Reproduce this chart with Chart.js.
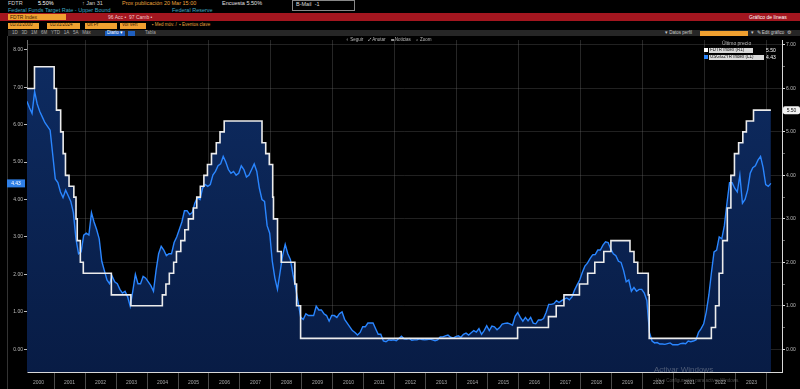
<!DOCTYPE html>
<html>
<head>
<meta charset="utf-8">
<script src="https://cdn.jsdelivr.net/npm/chart.js@4.4.0/dist/chart.umd.min.js"></script>
<style>
  body { margin: 0; background: #000; width: 800px; height: 389px; overflow: hidden; position: relative;
         font-family: "Liberation Sans", Arial, sans-serif; }
  .t { position: absolute; white-space: nowrap; font-size: 5.5px; line-height: 1; }
  .box { position: absolute; }
  #wrap { position: absolute; left: 0; top: 36px; width: 800px; height: 353px; }
</style>
</head>
<body>
<!-- entête façon terminal -->
<div class="t" style="left:8px;top:1px;color:#cfcfcf">FDTR</div>
<div class="t" style="left:38px;top:1px;color:#fff">5.50%</div>
<div class="t" style="left:82px;top:1px;color:#cfcfcf">↑ Jan 31</div>
<div class="t" style="left:122px;top:1px;color:#e8a33d">Prox publicación 20 Mar 15:00</div>
<div class="t" style="left:222px;top:1px;color:#e0e0e0">Encuesta 5.50%</div>
<div class="box" style="left:292px;top:0;width:61px;height:9px;border:1px solid #888"></div>
<div class="t" style="left:296px;top:2px;color:#ddd">B-Mail&nbsp;&nbsp;-1</div>
<div class="t" style="left:8px;top:7.5px;color:#3fa9c0">Federal Funds Target Rate - Upper Bound</div>
<div class="t" style="left:172px;top:7.5px;color:#3fa9c0">Federal Reserve</div>

<div class="box" style="left:0;top:13px;width:800px;height:8px;background:#a3161f"></div>
<div class="box" style="left:8px;top:14px;width:58px;height:6px;background:#f0a030"></div>
<div class="t" style="left:10px;top:14.5px;color:#3a1a00;font-size:5px">FDTR Index</div>
<div class="t" style="left:108px;top:14.5px;color:#f1c9cc;font-size:5px">96 Acc •&nbsp;&nbsp;97 Camb •</div>
<div class="t" style="left:749px;top:14.5px;color:#fff;font-size:5px">Gráfico de líneas</div>

<div class="box" style="left:8px;top:22.5px;width:31px;height:6px;background:#f0a030"></div>
<div class="t" style="left:10px;top:23px;color:#3a1a00;font-size:4.5px">01/31/2000</div>
<div class="box" style="left:47px;top:22.5px;width:33px;height:6px;background:#f0a030"></div>
<div class="t" style="left:50px;top:23px;color:#3a1a00;font-size:4.5px">01/31/2024</div>
<div class="box" style="left:85px;top:22.5px;width:32px;height:6px;background:#f0a030"></div>
<div class="t" style="left:87px;top:23px;color:#3a1a00;font-size:4.5px">Últ Pr</div>
<div class="box" style="left:120px;top:22.5px;width:26px;height:6px;background:#f0a030"></div>
<div class="t" style="left:122px;top:23px;color:#3a1a00;font-size:4.5px">Vol Vert</div>
<div class="t" style="left:152px;top:23px;color:#e8a33d;font-size:4.5px">▪ Med móv. /&nbsp;&nbsp;▪ Eventos clave</div>

<div class="box" style="left:8px;top:30px;width:792px;height:6px;background:#262626"></div>
<div class="t" style="left:12px;top:30.8px;color:#aaa;font-size:4.5px">1D&nbsp;&nbsp;&nbsp;3D&nbsp;&nbsp;&nbsp;1M&nbsp;&nbsp;&nbsp;6M&nbsp;&nbsp;&nbsp;YTD&nbsp;&nbsp;&nbsp;1A&nbsp;&nbsp;&nbsp;5A&nbsp;&nbsp;&nbsp;Máx</div>
<div class="box" style="left:105px;top:30.5px;width:20px;height:5px;background:#1f5fbf"></div>
<div class="t" style="left:107px;top:30.8px;color:#fff;font-size:4.5px">Diario ▾</div>
<div class="box" style="left:128px;top:30.5px;width:7px;height:5px;background:#1f5fbf"></div>
<div class="t" style="left:145px;top:30.8px;color:#aaa;font-size:4.5px">Tabla</div>
<div class="t" style="left:665px;top:30.8px;color:#ccc;font-size:4.5px">▾ Datos perfil</div>
<div class="box" style="left:700px;top:30.5px;width:48px;height:5px;background:#f0a030"></div>
<div class="t" style="left:751px;top:30.8px;color:#ccc;font-size:4.5px">▾&nbsp;&nbsp;✎ Edit gráfico&nbsp;&nbsp;⚙</div>

<div class="box" style="left:7px;top:36px;width:1px;height:353px;background:#333"></div>

<div id="wrap"><canvas id="grafique" width="800" height="353"></canvas></div>

<!-- boutons et légende par-dessus le graphique -->
<div class="t" style="left:346px;top:38px;color:#bbb;font-size:4.5px">⌖ Seguir&nbsp;&nbsp;&nbsp;&nbsp;✓ Anotar&nbsp;&nbsp;&nbsp;&nbsp;☰ Noticias&nbsp;&nbsp;&nbsp;&nbsp;⌕ Zoom</div>
<div class="t" style="left:722px;top:41px;color:#bbb;font-size:5px">Último precio</div>
<div class="box" style="left:704px;top:48px;width:4px;height:4px;background:#fff"></div>
<div class="t" id="leg1" style="left:709px;top:47.5px;width:43px;height:5px;background:#d9d9d9;color:#111;font-size:4.5px;padding-left:1px">FDTR Index (R1)</div>
<div class="t" id="val1" style="left:766px;top:47.5px;color:#fff;font-size:5px"></div>
<div class="box" style="left:704px;top:55px;width:4px;height:4px;background:#2a86ff"></div>
<div class="t" id="leg2" style="left:709px;top:54.5px;width:54px;height:5px;background:#d9d9d9;color:#111;font-size:4.5px;padding-left:1px">USGG2YR Index (L1)</div>
<div class="t" id="val2" style="left:766px;top:54.5px;color:#fff;font-size:5px"></div>

<div class="t" style="left:654px;top:366px;color:rgba(210,210,210,0.35);font-size:8px">Activar Windows</div>
<div class="t" style="left:656px;top:379px;color:rgba(210,210,210,0.35);font-size:4.5px">Ve a Configuración para activar Windows.</div>

<script>
// Années affichées sur l'axe horizontal
const yearTicks = [2000, 2001, 2002, 2003, 2004, 2005, 2006, 2007, 2008, 2009, 2010, 2011,
                   2012, 2013, 2014, 2015, 2016, 2017, 2018, 2019, 2020, 2021, 2022, 2023, 2024];
const leftTicks = [0, 1, 2, 3, 4, 5, 6, 7, 8];
const rightTicks = [0, 0.5, 1, 1.5, 2, 2.5, 3, 3.5, 4, 4.5, 5, 5.5, 6, 6.5, 7];

// Taux 2 ans (USGG2YR), une valeur par mois depuis février 2000
const usgg2yr = [
  6.62, 6.45, 6.30, 6.88, 6.55, 6.35, 6.20, 6.05, 5.95, 5.85, 5.20,       // 2000
  4.55, 4.45, 4.20, 4.05, 4.25, 4.10, 3.95, 3.65, 2.95, 2.55, 2.60, 3.05, // 2001
  3.10, 3.05, 3.65, 3.40, 3.20, 2.95, 2.35, 2.10, 1.85, 1.75, 1.95, 1.80, // 2002
  1.75, 1.60, 1.50, 1.55, 1.40, 1.15, 1.55, 2.00, 1.75, 1.75, 1.95, 1.90, // 2003
  1.80, 1.70, 1.55, 2.10, 2.55, 2.75, 2.65, 2.50, 2.55, 2.55, 2.85, 3.00, // 2004
  3.20, 3.40, 3.70, 3.70, 3.60, 3.65, 3.90, 4.05, 4.00, 4.30, 4.40, 4.35, // 2005
  4.40, 4.65, 4.75, 4.90, 4.95, 5.15, 5.00, 4.80, 4.70, 4.75, 4.65, 4.70, // 2006
  4.90, 4.80, 4.60, 4.65, 4.80, 4.95, 4.75, 4.30, 4.00, 3.95, 3.30, 3.10, // 2007
  2.35, 1.90, 1.60, 2.05, 2.50, 2.80, 2.55, 2.40, 2.00, 1.65, 1.25, 0.85, // 2008
  0.80, 0.95, 0.90, 0.90, 0.90, 1.15, 1.05, 1.05, 0.95, 0.90, 0.75, 0.90, // 2009
  0.90, 0.85, 0.95, 1.00, 0.80, 0.70, 0.60, 0.50, 0.45, 0.38, 0.45, 0.60, // 2010
  0.60, 0.70, 0.70, 0.70, 0.55, 0.40, 0.40, 0.22, 0.20, 0.25, 0.24, 0.25, // 2011
  0.23, 0.29, 0.35, 0.28, 0.27, 0.29, 0.24, 0.25, 0.25, 0.28, 0.26, 0.25, // 2012
  0.26, 0.27, 0.25, 0.23, 0.25, 0.33, 0.33, 0.36, 0.38, 0.32, 0.30, 0.34, // 2013
  0.36, 0.32, 0.40, 0.43, 0.38, 0.44, 0.50, 0.46, 0.55, 0.40, 0.50, 0.63, // 2014
  0.50, 0.62, 0.60, 0.52, 0.58, 0.67, 0.69, 0.70, 0.68, 0.64, 0.88, 0.98, // 2015
  0.85, 0.75, 0.85, 0.76, 0.85, 0.70, 0.68, 0.78, 0.78, 0.82, 0.98, 1.20, // 2016
  1.20, 1.22, 1.30, 1.25, 1.30, 1.34, 1.37, 1.32, 1.40, 1.58, 1.72, 1.85, // 2017
  2.05, 2.22, 2.30, 2.42, 2.52, 2.53, 2.65, 2.65, 2.78, 2.87, 2.85, 2.68, // 2018
  2.55, 2.50, 2.35, 2.32, 2.10, 1.80, 1.85, 1.55, 1.65, 1.55, 1.60, 1.60, // 2019
  1.50, 1.30, 0.45, 0.22, 0.17, 0.18, 0.14, 0.14, 0.13, 0.15, 0.17, 0.12, // 2020
  0.12, 0.12, 0.15, 0.16, 0.15, 0.22, 0.20, 0.22, 0.25, 0.45, 0.55, 0.68, // 2021
  1.00, 1.45, 2.05, 2.60, 2.65, 3.00, 2.95, 3.30, 3.90, 4.45, 4.45, 4.30, // 2022
  4.20, 4.65, 3.90, 4.00, 4.25, 4.70, 4.85, 4.90, 5.05, 5.15, 4.85, 4.40, // 2023
  4.35, 4.43                                                                // 2024
];

// Taux directeur (FDTR, borne haute) : date du changement et nouveau niveau
const fedDates = [2000.13, 2000.37, 2001.005, 2001.08, 2001.215, 2001.295, 2001.37, 2001.485, 2001.64,
  2001.71, 2001.75, 2001.85, 2001.945, 2002.85, 2003.48, 2004.495, 2004.61, 2004.72, 2004.86, 2004.95,
  2005.09, 2005.22, 2005.335, 2005.495, 2005.605, 2005.72, 2005.835, 2005.95, 2006.08, 2006.235,
  2006.355, 2006.49, 2007.71, 2007.83, 2007.945, 2008.055, 2008.08, 2008.21, 2008.33, 2008.77,
  2008.825, 2008.955, 2015.955, 2016.95, 2017.2, 2017.45, 2017.95, 2018.215, 2018.445, 2018.735,
  2018.965, 2019.58, 2019.71, 2019.83, 2020.17, 2020.2, 2022.205, 2022.34, 2022.455, 2022.57,
  2022.72, 2022.835, 2022.95, 2023.085, 2023.22, 2023.335, 2023.565, 2024.125];
const fedRates = [6.00, 6.50, 6.00, 5.50, 5.00, 4.50, 4.00, 3.75, 3.50,
  3.00, 2.50, 2.00, 1.75, 1.25, 1.00, 1.25, 1.50, 1.75, 2.00, 2.25,
  2.50, 2.75, 3.00, 3.25, 3.50, 3.75, 4.00, 4.25, 4.50, 4.75,
  5.00, 5.25, 4.75, 4.50, 4.25, 3.50, 3.00, 2.25, 2.00, 1.50,
  1.00, 0.25, 0.50, 0.75, 1.00, 1.25, 1.50, 1.75, 2.00, 2.25,
  2.50, 2.25, 2.00, 1.75, 1.25, 0.25, 0.50, 1.00, 1.75, 2.50,
  3.25, 4.00, 4.50, 4.75, 5.00, 5.25, 5.50, 5.50];

const xMin = 2000.129, xMax = 2024.484;
const lastFed = fedRates[fedRates.length - 1];
const last2y = usgg2yr[usgg2yr.length - 1];

document.getElementById('val1').textContent = lastFed.toFixed(2);
document.getElementById('val2').textContent = last2y.toFixed(2);

// points mensuels placés au milieu de chaque mois
const twoYearPoints = usgg2yr.map((v, i) => ({ x: 2000 + (i + 1.5) / 12, y: v }));
const fedPoints = fedDates.map((d, i) => ({ x: d, y: fedRates[i] }));

// Dégradé bleu nuit sous les courbes
function navyFill(context) {
    const { ctx, chartArea } = context.chart;
    if (!chartArea) return '#0b2352';
    const g = ctx.createLinearGradient(0, chartArea.top, 0, chartArea.bottom);
    g.addColorStop(0, '#0e2c62');
    g.addColorStop(1, '#081c45');
    return g;
}

// Étiquettes de dernière valeur sur les deux axes
const lastValueTags = {
    id: 'lastValueTags',
    afterDraw(chart) {
        const { ctx, scales } = chart;
        ctx.save();
        ctx.font = '5px "Liberation Sans"';
        ctx.textAlign = 'center';
        ctx.textBaseline = 'middle';
        let yL = scales.y.getPixelForValue(last2y);
        ctx.fillStyle = '#2f7fe6';
        ctx.fillRect(7, yL - 4, 18, 8);
        ctx.fillStyle = '#fff';
        ctx.fillText(last2y.toFixed(2), 16, yL);
        let yR = scales.y1.getPixelForValue(lastFed);
        ctx.fillStyle = '#f2f2f2';
        ctx.beginPath();
        ctx.roundRect(783, yR - 4, 17, 8, 2);
        ctx.fill();
        ctx.fillStyle = '#111';
        ctx.fillText(lastFed.toFixed(2), 791.5, yR);
        ctx.restore();
    }
};

Chart.defaults.font.family = '"Liberation Sans", Arial, sans-serif';

let ctx = document.getElementById('grafique').getContext('2d');
let grafique = new Chart(ctx, {
    type: 'line',
    data: {
        datasets: [{
            label: 'FDTR Index (R1)',
            data: fedPoints,
            yAxisID: 'y1',
            stepped: 'before',
            borderColor: '#ececec',
            borderWidth: 1.6,
            pointRadius: 0,
            fill: 'start',
            backgroundColor: navyFill
        }, {
            label: 'USGG2YR Index (L1)',
            data: twoYearPoints,
            yAxisID: 'y',
            borderColor: '#2a86ff',
            borderWidth: 1.4,
            pointRadius: 0,
            fill: 'start',
            backgroundColor: navyFill
        }]
    },
    options: {
        responsive: false,
        animation: false,
        layout: { padding: 0, autoPadding: false },
        scales: {
            x: {
                type: 'linear', min: xMin, max: xMax, z: 1,
                afterBuildTicks: s => { s.ticks = yearTicks.map(v => ({ value: v })); },
                afterFit: s => { s.height = 17; },
                grid: {
                    color: c => (c.tick && c.tick.value % 2 === 0 && c.tick.value > xMin) ? 'rgba(110,110,110,0.35)' : 'rgba(0,0,0,0)',
                    tickColor: c => (c.tick && c.tick.value > xMin) ? '#4a4a4a' : 'rgba(0,0,0,0)',
                    tickLength: 17
                },
                border: { color: '#d8d8d8', width: 1 },
                ticks: {
                    autoSkip: false, maxRotation: 0, labelOffset: 15.5, padding: -9,
                    color: '#a8a8a8', font: { size: 5 },
                    callback: v => v === 2024 ? '' : String(v)
                }
            },
            y: {
                position: 'left', min: -0.607, max: 8.259,
                afterBuildTicks: s => { s.ticks = leftTicks.map(v => ({ value: v })); },
                afterFit: s => { s.width = 27; },
                grid: { drawOnChartArea: false, tickLength: 3, tickColor: '#bbb' },
                border: { color: '#6a6a6a' },
                ticks: { color: '#bdbdbd', font: { size: 5 }, padding: 1, callback: v => v.toFixed(2) }
            },
            y1: {
                position: 'right', min: -0.523, max: 7.114, z: 1,
                afterBuildTicks: s => { s.ticks = rightTicks.map(v => ({ value: v })); },
                afterFit: s => { s.width = 18; },
                grid: {
                    color: c => (c.tick && Number.isInteger(c.tick.value)) ? 'rgba(110,110,110,0.3)' : 'rgba(0,0,0,0)',
                    tickColor: c => (c.tick && Number.isInteger(c.tick.value)) ? '#ddd' : '#666',
                    tickLength: 3
                },
                border: { color: '#d8d8d8' },
                ticks: { color: '#bdbdbd', font: { size: 5 }, padding: 1, callback: v => Number.isInteger(v) ? v.toFixed(2) : '' }
            }
        },
        plugins: {
            legend: { display: false },
            tooltip: { enabled: false },
            filler: { drawTime: 'beforeDatasetsDraw' }
        }
    },
    plugins: [lastValueTags]
});
</script>
</body>
</html>
